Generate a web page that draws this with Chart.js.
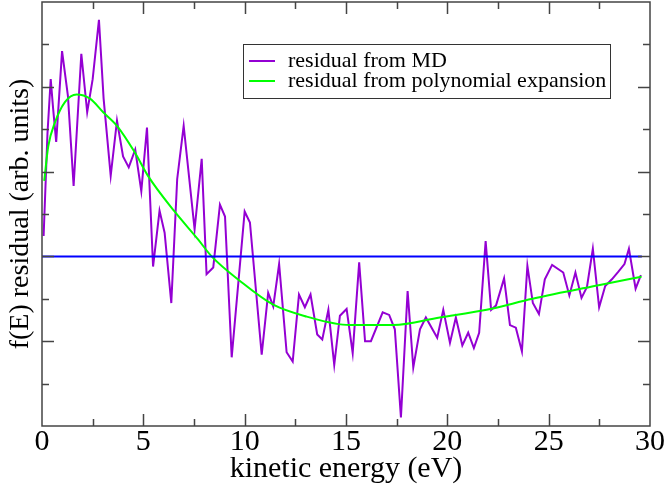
<!DOCTYPE html>
<html>
<head>
<meta charset="utf-8">
<script src="https://cdn.jsdelivr.net/npm/chart.js@4.4.1/dist/chart.umd.min.js"></script>
<style>
html,body{margin:0;padding:0;background:#fff;}
</style>
</head>
<body>
<canvas id="myChart" width="665" height="490"></canvas>
<script>
// residual, energy in eV
var mdEnergy = [0.08,0.27,0.43,0.55,0.70,0.99,1.28,1.56,1.94,2.23,2.50,2.81,3.04,3.39,3.70,4.00,4.28,4.60,4.90,5.18,
    5.48,5.80,6.05,6.38,6.67,6.99,7.53,7.88,8.12,8.45,8.78,9.03,9.36,10.0,10.26,10.84,11.16,11.41,11.70,12.07,
    12.37,12.68,12.97,13.25,13.58,13.83,14.13,14.42,14.70,15.03,15.33,15.65,15.94,16.23,16.81,17.13,17.41,17.71,18.04,18.32,
    18.65,18.94,19.50,19.80,20.13,20.42,20.74,21.03,21.31,21.57,21.89,22.16,22.40,22.80,23.09,23.38,23.68,23.95,24.22,24.52,
    24.81,25.17,25.72,26.02,26.32,26.62,26.89,27.18,27.49,27.79,28.12,28.44,28.74,28.96,29.29,29.55];
var mdResidual = [0.24,1.45,2.09,1.74,1.35,2.42,1.89,0.83,2.39,1.70,2.09,2.79,1.86,0.95,1.60,1.18,1.05,1.26,0.77,1.52,
    -0.12,0.54,0.28,-0.55,0.91,1.54,0.32,1.15,-0.21,-0.13,0.61,0.47,-1.19,0.53,0.40,-1.16,-0.43,-0.59,-0.09,-1.13,
    -1.24,-0.45,-0.60,-0.45,-0.92,-0.98,-0.63,-1.28,-0.70,-0.62,-1.14,-0.07,-1.00,-1.00,-0.66,-0.69,-0.86,-1.90,-0.41,-1.31,
    -0.86,-0.72,-0.96,-0.63,-1.02,-0.72,-1.05,-0.90,-1.08,-0.90,0.18,-0.63,-0.58,-0.26,-0.81,-0.84,-1.12,-0.11,-0.55,-0.68,
    -0.27,-0.10,-0.19,-0.46,-0.19,-0.49,-0.36,0.09,-0.60,-0.35,-0.27,-0.18,-0.09,0.09,-0.38,-0.22];

var fitEnergy = [0.11,0.31,0.64,1.13,1.71,2.37,3.02,3.70,4.57,5.23,6.54,7.70,8.37,9.77,11.41,13.06,15.19,17.33,19.63,21.94,24.20,27.46,29.58];
var fitResidual = [0.89,1.30,1.58,1.82,1.91,1.86,1.70,1.54,1.23,0.95,0.53,0.20,0.00,-0.29,-0.57,-0.71,-0.81,-0.81,-0.72,-0.63,-0.50,-0.34,-0.24];

var zeroEnergy = [0, 29.6];
var zeroResidual = [0, 0];

var seriesNames = ["residual from MD", "residual from polynomial expansion"];
var seriesColors = ["#9400d3", "#00ff00", "#0000ff"];

function pts(xs, ys){
    return xs.map(function(x, i){ return {x: x, y: ys[i]}; });
}

Chart.defaults.font.family = "'Liberation Serif', 'DejaVu Serif', serif";
Chart.defaults.color = "#000";

// inward ticks on all four sides plus the frame
var frameTicks = {
    id: "frameTicks",
    afterDatasetsDraw: function(chart){
        var ctx = chart.ctx, a = chart.chartArea;
        var xs = chart.scales.x, ys = chart.scales.y;
        ctx.save();
        ctx.strokeStyle = "#444";
        ctx.lineWidth = 1.5;
        ctx.beginPath();
        xs.ticks.forEach(function(t){
            if (t.value <= xs.min || t.value >= xs.max) return;
            var px = Math.round(xs.getPixelForValue(t.value)) + 0.5;
            var len = (t.value % 5 === 0) ? 12 : 7;
            ctx.moveTo(px, a.bottom); ctx.lineTo(px, a.bottom - len);
            ctx.moveTo(px, a.top); ctx.lineTo(px, a.top + len);
        });
        ys.ticks.forEach(function(t){
            if (t.value <= ys.min || t.value >= ys.max) return;
            var py = Math.round(ys.getPixelForValue(t.value)) + 0.5;
            var len = (t.value % 1 === 0) ? 12 : 7;
            ctx.moveTo(a.left, py); ctx.lineTo(a.left + len, py);
            ctx.moveTo(a.right, py); ctx.lineTo(a.right - len, py);
        });
        ctx.stroke();
        ctx.strokeRect(a.left, a.top, a.right - a.left, a.bottom - a.top);
        ctx.restore();
    }
};

var boxLegend = {
    id: "boxLegend",
    afterDraw: function(chart){
        var ctx = chart.ctx, a = chart.chartArea;
        var left = a.left + 201, top = a.top + 42, w = 367, h = 54;
        ctx.save();
        ctx.fillStyle = "#fff";
        ctx.fillRect(left, top, w, h);
        ctx.strokeStyle = "#333";
        ctx.lineWidth = 1;
        ctx.strokeRect(left + 0.5, top + 0.5, w, h);
        ctx.font = "22px 'Liberation Serif'";
        ctx.textBaseline = "middle";
        ctx.fillStyle = "#000";
        seriesNames.forEach(function(name, i){
            var y = top + 17 + i * 20;
            ctx.strokeStyle = seriesColors[i];
            ctx.lineWidth = 2;
            ctx.beginPath();
            ctx.moveTo(left + 6, y); ctx.lineTo(left + 32, y);
            ctx.stroke();
            ctx.fillText(name, left + 45, y);
        });
        ctx.restore();
    }
};

new Chart("myChart", {
    type: "scatter",
    data: {
        datasets: [{
            label: seriesNames[0],
            data: pts(mdEnergy, mdResidual),
            showLine: true,
            borderColor: seriesColors[0],
            borderWidth: 2,
            pointRadius: 0,
            order: 2
        }, {
            label: seriesNames[1],
            data: pts(fitEnergy, fitResidual),
            showLine: true,
            borderColor: seriesColors[1],
            borderWidth: 2,
            pointRadius: 0,
            cubicInterpolationMode: "monotone",
            order: 1
        }, {
            label: "zero",
            data: pts(zeroEnergy, zeroResidual),
            showLine: true,
            borderColor: seriesColors[2],
            borderWidth: 2,
            pointRadius: 0,
            order: 0
        }]
    },
    options: {
        responsive: false,
        animation: false,
        devicePixelRatio: 1,
        layout: {padding: {top: 2, right: 15, left: 0, bottom: 0}},
        plugins: {legend: {display: false}, tooltip: {enabled: false}},
        scales: {
            x: {
                type: "linear",
                min: 0, max: 30,
                grid: {display: false},
                border: {display: false},
                ticks: {
                    stepSize: 2.5,
                    autoSkip: false,
                    maxRotation: 0,
                    padding: -10,
                    font: {size: 30},
                    callback: function(v){ return v % 5 === 0 ? v : ""; }
                },
                title: {display: true, text: "kinetic energy (eV)", font: {size: 30, lineHeight: 1.2}, padding: {top: 0, bottom: 3}},
                afterFit: function(s){ s.height = 64; }
            },
            y: {
                min: -2, max: 3,
                grid: {display: false},
                border: {display: false},
                ticks: {stepSize: 0.5, display: false},
                title: {display: true, text: "f(E) residual (arb. units)", font: {size: 28, lineHeight: 1.2}, padding: {top: 4, bottom: 0}},
                afterFit: function(s){ s.width = 42; }
            }
        }
    },
    plugins: [frameTicks, boxLegend]
});
</script>
</body>
</html>
